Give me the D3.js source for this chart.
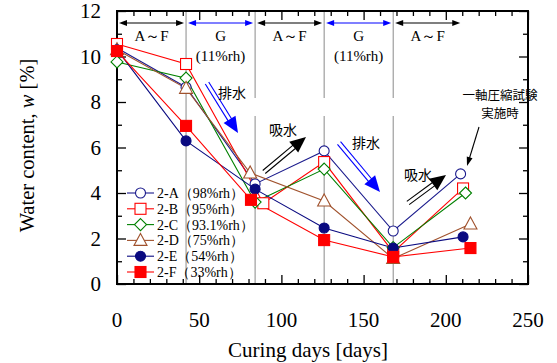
<!DOCTYPE html>
<html><head><meta charset="utf-8">
<script src="https://cdn.jsdelivr.net/npm/d3@7"></script>
<style>body{margin:0;background:#fff}svg{display:block}</style>
</head><body>
<svg id="c" width="557" height="363"></svg>
<script>
// ---- data ----
const seriesNames = ["2-A（98%rh）", "2-B（95%rh）", "2-C（93.1%rh）", "2-D（75%rh）", "2-E（54%rh）", "2-F（33%rh）"];
const daysA = [0, 42, 84, 126, 168, 209];
const valsA = [10.37, 8.65, 4.4, 5.85, 2.33, 4.84];
const daysB = [0, 42, 89, 126, 168, 210.5];
const valsB = [10.55, 9.67, 3.55, 5.36, 1.4, 4.2];
const daysC = [0, 42, 84, 126, 168, 212];
const valsC = [9.76, 9.05, 3.6, 5.05, 1.6, 4.0];
const daysD = [0, 42, 81, 126, 168, 215];
const valsD = [10.3, 8.6, 4.88, 3.65, 1.12, 2.64];
const daysE = [0, 42, 84, 126, 168, 210.5];
const valsE = [10.3, 6.29, 4.17, 2.46, 1.58, 2.07];
const daysF = [0, 42, 81.5, 126, 168, 215];
const valsF = [10.24, 6.95, 3.7, 1.93, 1.19, 1.58];
const xTicks = [0, 50, 100, 150, 200, 250];
const yTicks = [0, 2, 4, 6, 8, 10, 12];
const phaseBounds = [0, 42, 84, 126, 168, 210];
const phaseLabels = ["A～F", "G", "A～F", "G", "A～F"];

// ---- styles ----
const colors = ["#1a1a8c", "#ff0000", "#008000", "#a0522d", "#0a0a80", "#ff0000"];
const shapes = ["circle", "square", "diamond", "triangle", "circle", "square"];
const filled = [false, false, false, false, true, true];
const allDays = [daysA, daysB, daysC, daysD, daysE, daysF];
const allVals = [valsA, valsB, valsC, valsD, valsE, valsF];

const svg = d3.select("#c");
const L = 117, R = 528, T = 11, B = 284;
const x = d3.scaleLinear().domain([0, 250]).range([L, R]);
const y = d3.scaleLinear().domain([0, 12]).range([B, T]);
const serif = "'Liberation Serif','Times New Roman',serif";
const jp = "'Noto Sans CJK JP',sans-serif";

// vertical phase lines
const gaps = {42: null, 84: [98, 116], 126: [98, 116], 168: [98, 116]};
[42, 84, 126, 168].forEach(d => {
  const g = gaps[d];
  const segs = g ? [[T, g[0]], [g[1], B]] : [[T, B]];
  segs.forEach(s => svg.append("line").attr("x1", x(d)).attr("x2", x(d))
    .attr("y1", s[0]).attr("y2", s[1]).attr("stroke", "#8a8a8a").attr("stroke-width", 1));
});

// axes (inward ticks)
function axisGroup(axis, tx, ty) {
  const g = svg.append("g").attr("transform", `translate(${tx},${ty})`).call(axis);
  g.select(".domain").remove();
  g.selectAll("line").attr("stroke", "#000").attr("stroke-width", 1.3);
  return g;
}
const minorX = d3.range(0, 251, 10).filter(v => v % 50 !== 0);
const minorY = d3.range(1, 12, 2);
axisGroup(d3.axisBottom(x).tickValues(xTicks).tickSize(-9).tickFormat(""), 0, B);
axisGroup(d3.axisBottom(x).tickValues(minorX).tickSize(-5).tickFormat(""), 0, B);
axisGroup(d3.axisTop(x).tickValues(xTicks).tickSize(-9).tickFormat(""), 0, T);
axisGroup(d3.axisTop(x).tickValues(minorX).tickSize(-5).tickFormat(""), 0, T);
axisGroup(d3.axisLeft(y).tickValues(yTicks).tickSize(-9).tickFormat(""), L, 0);
axisGroup(d3.axisLeft(y).tickValues(minorY).tickSize(-5).tickFormat(""), L, 0);
axisGroup(d3.axisRight(y).tickValues(yTicks).tickSize(-9).tickFormat(""), R, 0);
axisGroup(d3.axisRight(y).tickValues(minorY).tickSize(-5).tickFormat(""), R, 0);

// tick labels
xTicks.forEach(v => svg.append("text").attr("x", x(v)).attr("y", 327).attr("text-anchor", "middle")
  .attr("font-family", serif).attr("font-size", 21).text(v));
yTicks.forEach(v => svg.append("text").attr("x", 101).attr("y", y(v) + 7).attr("text-anchor", "end")
  .attr("font-family", serif).attr("font-size", 21).text(v));

// frame
svg.append("rect").attr("x", L).attr("y", T).attr("width", R - L).attr("height", B - T)
  .attr("fill", "none").attr("stroke", "#000").attr("stroke-width", 2);

// titles
svg.append("text").attr("x", 308).attr("y", 357).attr("text-anchor", "middle")
  .attr("font-family", serif).attr("font-size", 21).text("Curing days [days]");
const yt = svg.append("text").attr("transform", `translate(34,${(T + B) / 2 - 2}) rotate(-90)`)
  .attr("text-anchor", "middle").attr("font-family", serif).attr("font-size", 20.5);
yt.append("tspan").text("Water content, ");
yt.append("tspan").attr("font-style", "italic").text("w");
yt.append("tspan").text(" [%]");

// phase arrows at top
function head(x0, y0, dir, col) {
  const len = 8, hw = 3;
  svg.append("path").attr("d", `M${x0},${y0}L${x0 - dir * len},${y0 - hw}L${x0 - dir * len},${y0 + hw}Z`).attr("fill", col);
}
phaseLabels.forEach((lab, i) => {
  const a = x(phaseBounds[i]) + 2, b = x(phaseBounds[i + 1]) - 2;
  const col = lab === "G" ? "#0000ff" : "#000";
  const yy = 23;
  svg.append("line").attr("x1", a + 4).attr("x2", b - 4).attr("y1", yy).attr("y2", yy)
    .attr("stroke", col).attr("stroke-width", 1.2);
  head(a, yy, -1, col); head(b, yy, 1, col);
  const cx = (a + b) / 2;
  svg.append("text").attr("x", cx).attr("y", 41).attr("text-anchor", "middle")
    .attr("font-family", serif).attr("font-size", 15).text(lab);
  if (lab === "G") svg.append("text").attr("x", cx).attr("y", 61).attr("text-anchor", "middle")
    .attr("font-family", serif).attr("font-size", 15).text("(11%rh)");
});

// double-line arrows
function dblArrow(x1, y1, x2, y2, col) {
  const dx = x2 - x1, dy = y2 - y1, l = Math.hypot(dx, dy);
  const ux = dx / l, uy = dy / l, px = -uy, py = ux;
  const hl = 16, hw = 7, off = 2;
  const bx = x2 - ux * hl, by = y2 - uy * hl;
  [-off, off].forEach(o => svg.append("line")
    .attr("x1", x1 + px * o).attr("y1", y1 + py * o)
    .attr("x2", bx + ux * 2 + px * o).attr("y2", by + uy * 2 + py * o)
    .attr("stroke", col).attr("stroke-width", 1.1));
  svg.append("path").attr("d", `M${x2},${y2}L${bx + px * hw},${by + py * hw}L${bx - px * hw},${by - py * hw}Z`).attr("fill", col);
}
dblArrow(207, 83, 238, 133, "#0000ff");
dblArrow(339, 143, 380, 192, "#0000ff");
dblArrow(264, 172, 306, 137, "#000");
dblArrow(408, 203, 446, 175, "#000");
function jtext(t, xx, yy, fs) {
  svg.append("text").attr("x", xx).attr("y", yy).attr("text-anchor", "middle")
    .attr("font-family", jp).attr("font-size", fs || 14).text(t);
}
jtext("排水", 232, 98);
jtext("排水", 366, 148);
jtext("吸水", 283, 135);
jtext("吸水", 418, 180);
jtext("一軸圧縮試験", 500, 99.5, 12.5);
jtext("実施時", 500, 118, 12.5);
// annotation arrow
(function () {
  const x2 = 467, y2 = 166, x1 = 479, y1 = 127;
  svg.append("line").attr("x1", x1).attr("y1", y1).attr("x2", 469.5).attr("y2", 158)
    .attr("stroke", "#000").attr("stroke-width", 1.1);
  const dx = x2 - x1, dy = y2 - y1, l = Math.hypot(dx, dy);
  const ux = dx / l, uy = dy / l, px = -uy, py = ux;
  const bx = x2 - ux * 9, by = y2 - uy * 9;
  svg.append("path").attr("d", `M${x2},${y2}L${bx + px * 3},${by + py * 3}L${bx - px * 3},${by - py * 3}Z`).attr("fill", "#000");
})();

// markers
function marker(g, shape, cx, cy, col, fill) {
  let el;
  if (shape === "circle") el = g.append("circle").attr("cx", cx).attr("cy", cy).attr("r", 5);
  else if (shape === "square") el = g.append("rect").attr("x", cx - 5.5).attr("y", cy - 5.5).attr("width", 11).attr("height", 11);
  else if (shape === "diamond") el = g.append("path").attr("d", `M${cx},${cy - 6}L${cx + 6},${cy}L${cx},${cy + 6}L${cx - 6},${cy}Z`);
  else el = g.append("path").attr("d", `M${cx},${cy - 7}L${cx + 6.5},${cy + 5}L${cx - 6.5},${cy + 5}Z`);
  el.attr("fill", fill ? col : "#fff").attr("stroke", col).attr("stroke-width", 1.1);
}

// series lines
const line = d3.line().x(d => x(d[0])).y(d => y(d[1]));
allDays.forEach((ds, i) => {
  const pts = ds.map((d, j) => [d, allVals[i][j]]);
  svg.append("path").attr("d", line(pts)).attr("fill", "none")
    .attr("stroke", colors[i]).attr("stroke-width", 1.1);
});
allDays.forEach((ds, i) => {
  const g = svg.append("g");
  ds.forEach((d, j) => marker(g, shapes[i], x(d), y(allVals[i][j]), colors[i], filled[i]));
});

// legend
seriesNames.forEach((n, i) => {
  const yy = 193 + i * 15.8;
  svg.append("line").attr("x1", 127).attr("x2", 154).attr("y1", yy).attr("y2", yy)
    .attr("stroke", colors[i]).attr("stroke-width", 1.1);
  marker(svg, shapes[i], 140.5, yy, colors[i], filled[i]);
  svg.append("text").attr("x", 157).attr("y", yy + 5).attr("font-family", serif)
    .attr("font-size", 14).text(n);
});
</script>
</body></html>
